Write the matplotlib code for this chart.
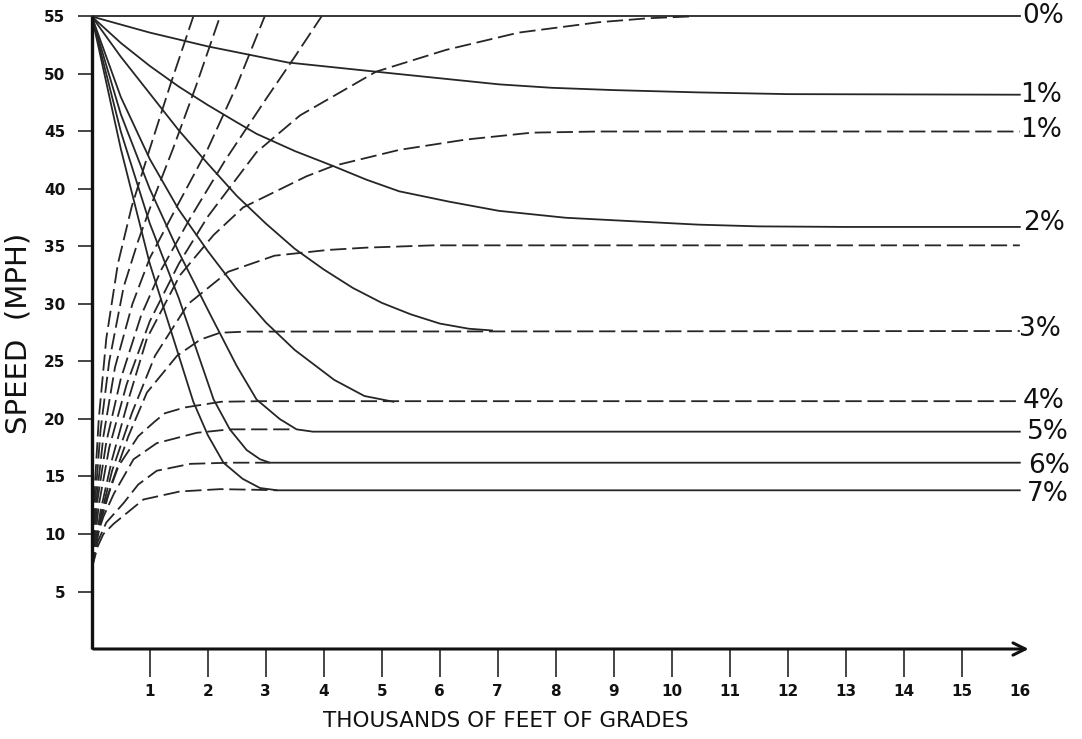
import matplotlib
matplotlib.use("Agg")
import matplotlib.pyplot as plt

# ---------------- data ----------------
x_ticks = list(range(1, 17))
y_ticks = list(range(5, 60, 5))

# Deceleration curves (solid), thousands of feet vs mph
dec1_x = [0, 1, 2, 3.38, 4.9, 7.02, 7.93, 9.0, 10.46, 12, 16]
dec1_y = [55, 53.6, 52.4, 51.0, 50.2, 49.1, 48.8, 48.6, 48.4, 48.25, 48.2]
dec2_x = [0, 0.5, 1, 1.5, 2, 2.5, 2.84, 3.5, 4.16, 4.74, 5.3, 6.16, 7.02, 8.17, 9.31, 10.46, 11.5, 13, 16]
dec2_y = [55, 52.7, 50.7, 48.9, 47.3, 45.8, 44.8, 43.3, 42.0, 40.8, 39.8, 38.9, 38.1, 37.5, 37.2, 36.9, 36.75, 36.7, 36.7]
dec3_x = [0, 0.5, 1, 1.5, 2, 2.5, 3, 3.5, 4, 4.5, 5, 5.5, 6, 6.5, 6.9]
dec3_y = [55, 51.5, 48.3, 45.1, 42.2, 39.4, 37.0, 34.8, 33.0, 31.4, 30.1, 29.1, 28.3, 27.85, 27.7]
dec4_x = [0, 0.5, 1, 1.5, 2, 2.5, 3, 3.5, 4.18, 4.7, 5.2]
dec4_y = [55, 48.0, 42.6, 38.2, 34.6, 31.3, 28.4, 26.0, 23.4, 22.0, 21.5]
dec5_x = [0, 0.5, 1, 1.5, 2, 2.5, 2.84, 3.24, 3.53, 3.81, 16]
dec5_y = [55, 46.5, 40.0, 34.5, 29.5, 24.6, 21.7, 20.0, 19.1, 18.9, 18.9]
dec6_x = [0, 0.5, 1, 1.5, 2.1, 2.38, 2.67, 2.9, 3.07, 16]
dec6_y = [55, 45.0, 37.0, 30.5, 21.7, 19.1, 17.3, 16.5, 16.2, 16.2]
dec7_x = [0, 0.5, 1, 1.5, 1.75, 2.0, 2.27, 2.6, 2.9, 3.2, 16]
dec7_y = [55, 43.5, 33.5, 25.5, 21.5, 18.6, 16.2, 14.8, 14.0, 13.8, 13.8]
dec0_x = [0, 16]
dec0_y = [55, 55]

# Acceleration curves (dashed)
accA_x = [0, 0.05, 0.12, 0.25, 0.45, 0.69, 1.0, 1.35, 1.75]
accA_y = [7, 14, 20, 27, 33.5, 38.5, 43.5, 49, 55]
accB_x = [0, 0.06, 0.15, 0.3, 0.55, 0.8, 1.03, 1.4, 1.8, 2.21]
accB_y = [7, 13, 19, 25, 31.5, 35.5, 38.7, 43.5, 49, 55]
accC_x = [0, 0.08, 0.2, 0.4, 0.7, 1.0, 1.49, 2.0, 2.5, 2.98]
accC_y = [7, 13, 18.5, 24.5, 30, 34, 38.7, 43.5, 49, 55]
accD_x = [0, 0.1, 0.25, 0.5, 0.85, 1.2, 1.7, 2.3, 3.0, 3.5, 3.96]
accD_y = [7, 13, 18, 23.5, 29, 33, 37.5, 42.5, 47.8, 51.5, 55]
acc0_x = [0, 0.12, 0.3, 0.6, 1.0, 1.5, 2.0, 2.84, 3.59, 4.9, 6.11, 7.36, 8.74, 9.6, 10.3]
acc0_y = [7, 12.5, 17.5, 23.0, 28.5, 33.5, 37.6, 43.2, 46.4, 50.2, 52.1, 53.6, 54.5, 54.85, 55]
acc1_x = [0, 0.15, 0.35, 0.65, 0.95, 1.52, 2.1, 2.61, 3.7, 4.16, 5.3, 6.45, 7.59, 8.74, 16]
acc1_y = [7, 12, 16.5, 22, 27, 32.5, 36.0, 38.4, 41.1, 42.0, 43.4, 44.3, 44.9, 45.0, 45.0]
acc2_x = [0, 0.15, 0.35, 0.69, 1.09, 1.66, 2.35, 3.15, 4.07, 4.73, 5.88, 16]
acc2_y = [7, 11.5, 15.5, 20.5, 25.5, 30.0, 32.8, 34.2, 34.7, 34.9, 35.1, 35.1]
acc3_x = [0, 0.15, 0.35, 0.63, 0.95, 1.47, 1.87, 2.21, 2.67, 16]
acc3_y = [7, 11, 14.5, 18.5, 22.3, 25.5, 26.9, 27.5, 27.6, 27.65]
acc4_x = [0, 0.1, 0.25, 0.46, 0.8, 1.09, 1.26, 1.6, 2.23, 2.92, 16]
acc4_y = [7, 10.5, 13, 15.9, 18.5, 19.8, 20.5, 21.0, 21.5, 21.55, 21.55]
acc5_x = [0, 0.1, 0.2, 0.38, 0.72, 1.12, 1.81, 2.38, 3.0, 3.5]
acc5_y = [7, 10, 11.5, 13.5, 16.5, 17.9, 18.8, 19.1, 19.1, 19.1]
acc6_x = [0, 0.1, 0.25, 0.55, 0.8, 1.12, 1.7, 2.38, 3.07]
acc6_y = [7, 9.3, 11, 12.7, 14.3, 15.5, 16.1, 16.2, 16.2]
acc7_x = [0, 0.1, 0.2, 0.38, 0.89, 1.52, 2.21, 2.78, 3.2]
acc7_y = [7, 8.9, 10.0, 10.9, 13.0, 13.7, 13.9, 13.85, 13.8]

grade_labels = ["0%", "1%", "1%", "2%", "3%", "4%", "5%", "6%", "7%"]
grade_label_y = [55, 48.2, 45.1, 37.0, 27.8, 21.6, 18.9, 15.9, 13.5]
grade_label_x = [16.05, 16.0, 16.0, 16.05, 15.98, 16.05, 16.12, 16.15, 16.12]

# ---------------- figure ----------------
W, H = 1082, 739
fig = plt.figure(figsize=(W / 100, H / 100), dpi=100)
x0px, y0px = 91.8, 649.0
pxx, pxy = 58.0, 11.5
xmax, ymax = 16.3, 56.4
ax = fig.add_axes([x0px / W, (H - y0px) / H, xmax * pxx / W, ymax * pxy / H])
ax.set_xlim(0, xmax)
ax.set_ylim(0, ymax)
for s in ax.spines.values():
    s.set_visible(False)

ink = "#262626"
lw = 1.3
dash = (0, (9, 3.2))

solid_curves = [(dec0_x, dec0_y), (dec1_x, dec1_y), (dec2_x, dec2_y), (dec3_x, dec3_y),
                (dec4_x, dec4_y), (dec5_x, dec5_y), (dec6_x, dec6_y), (dec7_x, dec7_y)]
for cx, cy in solid_curves:
    ax.plot(cx, cy, color=ink, lw=lw, solid_joinstyle="round")

dashed_curves = [(accA_x, accA_y), (accB_x, accB_y), (accC_x, accC_y), (accD_x, accD_y),
                 (acc0_x, acc0_y), (acc1_x, acc1_y), (acc2_x, acc2_y), (acc3_x, acc3_y),
                 (acc4_x, acc4_y), (acc5_x, acc5_y), (acc6_x, acc6_y), (acc7_x, acc7_y)]
for cx, cy in dashed_curves:
    ax.plot(cx, cy, color=ink, lw=lw, linestyle=dash)

# axes lines
ax.plot([0, 0], [0, 55], color="#111111", lw=2.4, clip_on=False, solid_capstyle="butt")
ax.annotate("", xy=(16.2, 0), xytext=(-0.02, 0),
            arrowprops=dict(arrowstyle="->", lw=2.2, color="#111111", mutation_scale=22),
            annotation_clip=False)

ax.set_xticks(x_ticks)
ax.set_xticklabels([str(v) for v in x_ticks])
ax.set_yticks(y_ticks)
ax.set_yticklabels([str(v) for v in y_ticks])
ax.tick_params(axis="x", direction="out", length=20, width=1.2, color=ink,
               pad=5, labelsize=11, labelcolor="#111111")
ax.tick_params(axis="y", direction="out", length=10, width=1.2, color=ink,
               pad=9, labelsize=11, labelcolor="#111111")
ax.xaxis.get_major_ticks()[-1].tick1line.set_visible(False)
for t in ax.get_yticklabels():
    t.set_fontweight("bold")
for t in ax.get_xticklabels():
    t.set_fontweight("bold")

for lab, xv, yv in zip(grade_labels, grade_label_x, grade_label_y):
    ax.text(xv, yv, lab, fontsize=19, va="center", ha="left", color="#111111",
            clip_on=False)

fig.text(19 / W, 1 - 333 / H, "SPEED  (MPH)", rotation=90, fontsize=21,
         ha="center", va="center", color="#111111")
fig.text(506 / W, 1 - 721 / H, "THOUSANDS OF FEET OF GRADES", fontsize=15.5,
         ha="center", va="center", color="#111111")

fig.savefig("out.png", dpi=100, facecolor="white")
